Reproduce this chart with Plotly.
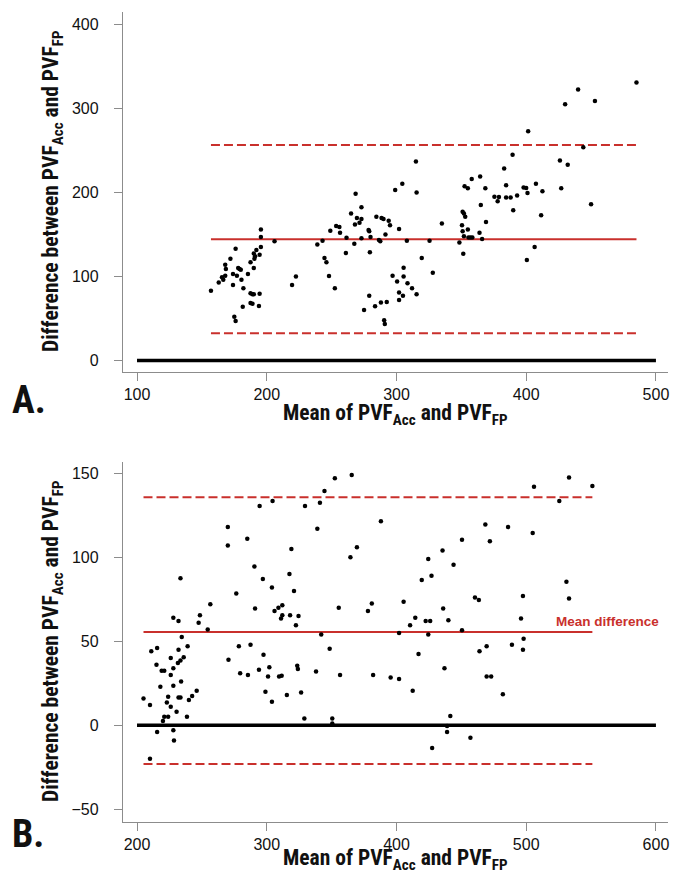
import plotly.graph_objects as go

# ---------------- Data ----------------
# Panel A: Mean of PVF_Acc and PVF_FP vs difference
a_mean = [157, 163, 165.5, 166.5, 168, 168.5, 168, 172, 174, 174, 176, 175, 176, 177, 178, 179, 180, 180.5, 181.5, 182,
          185.5, 187.5, 187.5, 187.5, 189, 189, 190, 190, 190, 190.5, 191, 192, 194, 194.5, 194.5, 195.5, 195.5, 195.5,
          206, 219.5, 222.5, 239, 243, 244.5, 246, 248, 249, 252.5, 253.5, 256, 256.5, 261, 261.5, 265, 267.5, 268,
          268.5, 269.5, 271.5, 273, 273, 273, 275, 278.5, 279, 279, 280, 279.5, 283.5, 284.5, 286.5, 287.5, 288, 288.5,
          290, 290.5, 291, 291.5, 292.5, 294, 295, 297, 299, 300.5, 302, 302, 302,
          308, 304.5, 315, 315.5, 305.5, 305.5, 308.5, 305, 312, 315.5, 319.5, 325.5, 328, 335, 348.5, 350.5, 351, 352,
          353, 351, 352, 351.5, 352.5, 355, 355, 355.5, 357, 358.5, 358, 364, 364.5, 365, 366, 368.5, 369, 375.5, 378,
          379, 383, 384.5, 384.5, 388, 389.5, 390, 393, 398, 400, 401, 400.5, 401.5, 406.5, 407.5, 411.5, 412.5, 426,
          427, 430, 432, 440, 444, 450, 453, 485]
a_diff = [83, 93, 99, 96, 101, 109, 114, 121, 90, 103, 133, 52, 47, 101, 110, 109, 108, 96, 64, 86,
          103, 117, 80, 68.5, 67.5, 79, 79, 110, 127.5, 121, 124, 131.5, 65, 79.5, 126, 135, 147, 156,
          142, 90, 100, 138, 142.5, 122, 117, 100.5, 154.5, 86, 160, 159, 152, 128, 146, 175, 139, 162,
          198.5, 169.5, 164, 182.5, 168.5, 145.5, 60, 155.5, 154, 77, 147, 129, 64.5, 171, 143.5, 142, 69, 169.5,
          168.5, 48, 43.5, 150, 69.5, 166.5, 161, 101, 203, 94, 156.5, 81, 72,
          142.5, 210.5, 237, 200, 110.5, 100, 92, 77, 86, 79, 122, 142.5, 104.5, 163, 140.5, 161, 177, 175,
          171, 154, 148, 127, 207.5, 205, 156, 146.5, 146.5, 146.5, 216, 152, 219, 185, 144.5, 205, 165, 195, 189.5,
          194.5, 228.5, 208.5, 194, 194, 245, 179, 196.5, 206, 205.5, 199.5, 119.5, 273, 135, 210.5, 173, 201.5, 238,
          205, 305, 233, 322.5, 254, 186, 309, 331]
a_mean_diff = 144.3
a_upper_loa = 256.5
a_lower_loa = 32.4

# Panel B
b_mean = [205, 210, 210, 211, 215.5, 215, 215.5, 218, 219, 221, 220, 221, 224, 223, 224, 226, 226, 226, 228, 228,
          228, 228, 228.5, 230.5, 231.5, 232, 232, 232, 233.5, 233.5, 233.5, 234, 234.5, 236, 239, 238.5, 240, 242.5,
          246, 247.5, 248.5, 254.5, 256.5, 270, 270, 270.5, 276.5, 278.5, 279.5, 285, 285.5, 287.5, 290.5, 291, 294,
          294.5, 297, 297.5, 299, 302, 301, 304, 304, 304.5, 306, 309, 309.5, 311.5, 311, 312, 312, 315.5, 317.5, 318,
          319, 321, 322.5, 323.5, 324, 324.5, 326.5, 329, 329.5, 338, 339, 341, 342, 344.5, 348.5, 350.5, 350.5, 352.5,
          355.5, 356.5, 364.5, 365.5, 369.5, 378, 381, 382, 388, 395.5, 402, 402,
          405.5, 410.5, 412.5, 414.5, 417, 419.5, 422.5, 424.5, 424.5, 426, 427, 427.5, 435.5, 436, 437, 439, 439, 440,
          441.5, 444, 450.5, 450.5, 457, 460.5, 463.5, 464, 468.5, 469.5, 469.5, 472, 473, 482, 486, 489, 496, 497.5,
          497.5, 498, 505, 506, 525.5, 531, 533, 533, 551]
b_diff = [16, 12, -20, 44, 46, 36, -4, 23, 32.5, 32.5, 2.5, 5, 5, 13.5, 17, 11, 30, 40, 34, 23.5,
          64, -3, -9, 8, 37, 62, 45, 16.5, 16.5, 87.5, 38.5, 26, 52.5, 40.5, 47, 5, 15, 17.5,
          20.5, 61, 65.5, 57, 72, 118, 107, 39, 78.5, 47, 31, 111, 30, 48, 94.5, 69.5, 33,
          130.5, 87, 42, 20, 34.5, 29, 82, 14, 133.5, 68, 70, 29, 29.5, 63.5, 65.5, 71.5, 18, 90, 65.5,
          105, 80, 59.5, 35.5, 33.5, 65, 19.5, 4, 130.5, 32, 117, 132.5, 54, 139.5, 45.5, 4, 1, 147,
          70, 30, 100, 149, 106, 68, 72.5, 30, 121.5, 28.5, 27.5, 55,
          73.5, 59.5, 20.5, 64, 42.5, 86.5, 62, 99, 54, 62, 89, -13.5, 104, 69.5, 34, -4, -0.5, 62.5,
          5.5, 95.5, 110.5, 56.5, -7.5, 76, 74.5, 44, 119.5, 47, 29, 109.5, 29, 18.5, 118, 48, 63.5, 77,
          45, 51.5, 114.5, 142, 133.5, 85.5, 147.5, 75.5, 142.5]
b_mean_diff = 55.5
b_upper_loa = 135.7
b_lower_loa = -23.0

a_xticks = [100, 200, 300, 400, 500]
a_yticks = [0, 100, 200, 300, 400]
b_xticks = [200, 300, 400, 500, 600]
b_yticks = [-50, 0, 50, 100, 150]

# ---------------- Styling ----------------
PAGE_W, PAGE_H = 690, 883
OFF = 8                      # default page body margin
W, H = PAGE_W - OFF, PAGE_H - 2 * OFF
RED = "#c9302c"
AXC = "#8c8c8c"
TICKFONT = dict(family="Liberation Sans, Arial, Helvetica, sans-serif", size=16, color="#111")
TITLEFONT = dict(family="Liberation Sans Narrow, Arial Narrow, Roboto Condensed, DejaVu Sans Condensed, Liberation Sans, sans-serif",
                 size=21.5, color="#111")


def fy(p):
    return 1 - (p - OFF) / H


def fx(p):
    return (p - OFF) / W


fig = go.Figure()


def add_panel(xs, ys, mean_d, up, lo, xticks, xa, ya):
    x0, x1 = min(xs), max(xs)
    fig.add_trace(go.Scatter(x=[xticks[0], xticks[-1]], y=[0, 0], mode="lines",
                             line=dict(color="black", width=3.5), xaxis=xa, yaxis=ya,
                             hoverinfo="skip", showlegend=False))
    for val, dash in [(up, "9px,4px"), (lo, "9px,4px"), (mean_d, "solid")]:
        fig.add_trace(go.Scatter(x=[x0, x1], y=[val, val], mode="lines",
                                 line=dict(color=RED, width=2, dash=dash), xaxis=xa, yaxis=ya,
                                 hoverinfo="skip", showlegend=False))
    fig.add_trace(go.Scatter(x=xs, y=ys, mode="markers",
                             marker=dict(color="black", size=4.5), xaxis=xa, yaxis=ya,
                             showlegend=False))


add_panel(a_mean, a_diff, a_mean_diff, a_upper_loa, a_lower_loa, a_xticks, "x", "y")
add_panel(b_mean, b_diff, b_mean_diff, b_upper_loa, b_lower_loa, b_xticks, "x2", "y2")

axis_common = dict(showline=True, linecolor=AXC, linewidth=1.3, ticks="outside", ticklen=8,
                   tickcolor=AXC, tickwidth=1.2, showgrid=False, zeroline=False, tickfont=TICKFONT,
                   fixedrange=True)

fig.update_layout(
    width=W, height=H,
    margin=dict(l=0, r=0, t=0, b=0),
    paper_bgcolor="white", plot_bgcolor="white",
    xaxis=dict(domain=[fx(123), fx(668)], anchor="y", range=[89.2, 509.3], tickvals=a_xticks, **axis_common),
    yaxis=dict(domain=[fy(372), fy(12)], anchor="x", range=[-13.7, 414.9], tickvals=a_yticks,
               ticklabelstandoff=12, **axis_common),
    xaxis2=dict(domain=[fx(123), fx(668)], anchor="y2", range=[189.2, 609.3], tickvals=b_xticks, **axis_common),
    yaxis2=dict(domain=[fy(821.7), fy(461.7)], anchor="x2", range=[-57.4, 156.9], tickvals=b_yticks,
                ticklabelstandoff=12, **axis_common),
)

xtitle = "<b>Mean of PVF<sub>Acc</sub> and PVF<sub>FP</sub></b>"
ytitle = "<b>Difference between PVF<sub>Acc</sub> and PVF<sub>FP</sub></b>"
label_font = dict(family="Liberation Sans, Arial, sans-serif", size=13.5, color=RED)
panel_font = dict(family=TITLEFONT["family"], size=38, color="#111")

annotations = [
    # panel A
    dict(text=xtitle, x=fx(395), y=fy(414), xref="paper", yref="paper", xanchor="center", yanchor="middle",
         showarrow=False, font=TITLEFONT),
    dict(text=ytitle, x=fx(52), y=fy(192), xref="paper", yref="paper", xanchor="center", yanchor="middle",
         textangle=-90, showarrow=False, font=TITLEFONT),
    dict(text="<b>A.</b>", x=fx(10), y=fy(400), xref="paper", yref="paper", xanchor="left", yanchor="middle",
         showarrow=False, font=panel_font),
    dict(text="<b>Mean difference</b>", x=517, y=a_mean_diff + 12, xref="x", yref="y", xanchor="right",
         yanchor="middle", showarrow=False, font=label_font),
    # panel B
    dict(text=xtitle, x=fx(395), y=fy(859), xref="paper", yref="paper", xanchor="center", yanchor="middle",
         showarrow=False, font=TITLEFONT),
    dict(text=ytitle, x=fx(52), y=fy(642), xref="paper", yref="paper", xanchor="center", yanchor="middle",
         textangle=-90, showarrow=False, font=TITLEFONT),
    dict(text="<b>B.</b>", x=fx(10), y=fy(834), xref="paper", yref="paper", xanchor="left", yanchor="middle",
         showarrow=False, font=panel_font),
    dict(text="<b>Mean difference</b>", x=604, y=b_mean_diff + 6, xref="x2", yref="y2", xanchor="right",
         yanchor="middle", showarrow=False, font=label_font),
]
fig.update_layout(annotations=annotations)

fig.write_html("out.html")
